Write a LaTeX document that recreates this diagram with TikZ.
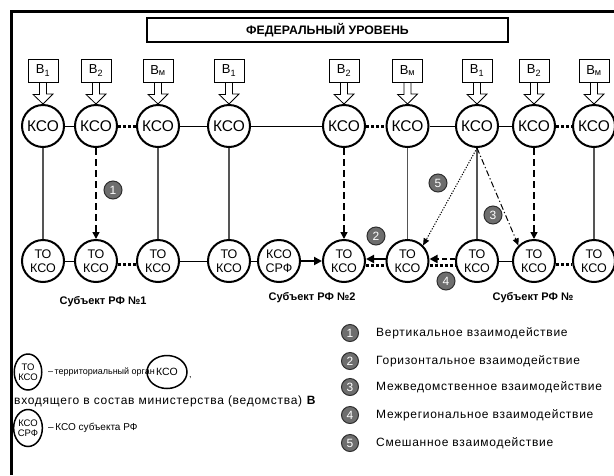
\documentclass[tikz,border=0pt]{standalone}
\usepackage{fontspec}
\setmainfont{Liberation Sans}
\usetikzlibrary{arrows.meta,shapes.geometric}
\definecolor{vline}{HTML}{555555}
\definecolor{labfill}{HTML}{6E6E6E}
\definecolor{labdraw}{HTML}{2E2E2E}
\begin{document}
\begin{tikzpicture}[x=1pt,y=-1pt,
  kso/.style={circle,draw,line width=2pt,minimum size=42pt,inner sep=0pt,font=\fontsize{15.5}{15.5}\selectfont},
  tok/.style={circle,draw,line width=2pt,minimum size=42pt,inner sep=0pt,align=center,font=\fontsize{12.5}{14}\selectfont},
  bbox/.style={draw,line width=0.8pt,minimum width=30pt,minimum height=23pt,inner sep=0pt,font=\fontsize{13}{13}\selectfont},
  hollow/.style={draw,line width=0.8pt,fill=white},
  vsolid/.style={draw=vline,line width=1.2pt},
  hsolid/.style={line width=1pt},
  hdot/.style={line width=3pt,dash pattern=on 3pt off 2pt},
  vdash/.style={line width=1.5pt,dash pattern=on 7pt off 4pt,-{Triangle[length=7pt,width=7pt]}},
  thickarr/.style={line width=2.5pt,-{Triangle[length=8pt,width=8pt]}},
  thickdash/.style={line width=2.5pt,dash pattern=on 5pt off 3pt,-{Triangle[length=8pt,width=8pt]}},
  dotarr/.style={line width=1pt,dash pattern=on 1.2pt off 1.5pt,-{Triangle[length=7pt,width=6pt]}},
  dasharr/.style={line width=1pt,dash pattern=on 6pt off 2.5pt on 1.2pt off 2.5pt,-{Triangle[length=7pt,width=6pt]}},
  lab/.style={circle,fill=labfill,draw=labdraw,line width=1pt,minimum size=18pt,inner sep=0pt,text=white,font=\fontsize{12}{12}\selectfont},
  subj/.style={font=\bfseries\fontsize{11}{11}\selectfont},
  legtxt/.style={anchor=west,inner sep=0pt,font=\fontsize{12}{12}\selectfont\addfontfeatures{LetterSpace=6}},
  legsmall/.style={anchor=west,inner sep=0pt,font=\fontsize{9}{9}\selectfont},
  legell/.style={ellipse,draw,line width=1.5pt,inner sep=0pt,align=center,font=\fontsize{9.5}{10.5}\selectfont}
]
\useasboundingbox (0,0) rectangle (614,475);
% frame
\draw[line width=3.3pt,miter limit=10] (11.6,475) -- (11.6,11.6) -- (614,11.6);
% title
\node[draw,line width=1.8pt,minimum width=361pt,minimum height=24pt,inner sep=0pt,font=\bfseries\fontsize{12.3}{12.3}\selectfont] (title) at (327.5,30) {ФЕДЕРАЛЬНЫЙ УРОВЕНЬ};
% ministries boxes
\node[bbox] (b1) at (43,70.5) {В\textsubscript{1}};
\node[bbox] (b2) at (96,70.5) {В\textsubscript{2}};
\node[bbox] (b3) at (158,70.5) {В\textsubscript{м}};
\node[bbox] (b4) at (229,70.5) {В\textsubscript{1}};
\node[bbox] (b5) at (344,70.5) {В\textsubscript{2}};
\node[bbox] (b6) at (407.5,70.5) {В\textsubscript{м}};
\node[bbox] (b7) at (477,70.5) {В\textsubscript{1}};
\node[bbox] (b8) at (534,70.5) {В\textsubscript{2}};
\node[bbox] (b9) at (594,70.5) {В\textsubscript{м}};
% top KSO
\node[kso] (t1) at (43,126) {КСО};
\node[kso] (t2) at (96,126) {КСО};
\node[kso] (t3) at (158,126) {КСО};
\node[kso] (t4) at (229,126) {КСО};
\node[kso] (t5) at (344,126) {КСО};
\node[kso] (t6) at (407.5,126) {КСО};
\node[kso] (t7) at (477,126) {КСО};
\node[kso] (t8) at (534,126) {КСО};
\node[kso] (t9) at (594,126) {КСО};
% hollow arrows
\foreach \i in {1,...,9}{
  \draw[hollow] ([xshift=-3.5pt]b\i.south) -- ++(0,12) -- ++(-6.5,0) -- (t\i.north) -- ++(10,-10) -- ++(-6.5,0) -- ([xshift=3.5pt]b\i.south) -- cycle;
}
% bottom row
\node[tok] (u1) at (43,261) {ТО\\КСО};
\node[tok] (u2) at (96,261) {ТО\\КСО};
\node[tok] (u3) at (158,261) {ТО\\КСО};
\node[tok] (u4) at (229,261) {ТО\\КСО};
\node[tok] (srf) at (279,261) {КСО\\СРФ};
\node[tok] (u5) at (344,261) {ТО\\КСО};
\node[tok] (u6) at (407.5,261) {ТО\\КСО};
\node[tok] (u7) at (477,261) {ТО\\КСО};
\node[tok] (u8) at (534,261) {ТО\\КСО};
\node[tok] (u9) at (594,261) {ТО\\КСО};
% top horizontal connections
\draw[hsolid] (t1) -- (t2);
\draw[hdot] (t2) -- (t3);
\draw[hsolid] (t3) -- (t4);
\draw[hsolid] (t4) -- (t5);
\draw[hdot] (t5) -- (t6);
\draw[hsolid] (t6) -- (t7);
\draw[hsolid] (t7) -- (t8);
\draw[hdot] (t8) -- (t9);
% bottom horizontal connections
\draw[hsolid] (u1) -- (u2);
\draw[hdot] ([yshift=-3pt]u2.east) -- ([yshift=-3pt]u3.west);
\draw[hsolid] (u3) -- (u4);
\draw[hsolid] (u4) -- (srf);
\draw[thickarr] (srf) -- (u5);
\draw[hdot] ([yshift=-4pt]u5.east) -- ([yshift=-4pt]u6.west);
\draw[thickarr] ([yshift=2pt]u6.west) -- ([yshift=2pt]u5.east);
\draw[hdot] ([yshift=-4pt]u6.east) -- ([yshift=-4pt]u7.west);
\draw[thickdash] ([yshift=2pt]u7.west) -- ([yshift=2pt]u6.east);
\draw[hsolid] (u7) -- (u8);
\draw[hdot] ([yshift=-3pt]u8.east) -- ([yshift=-3pt]u9.west);
% verticals
\draw[vsolid] (t1) -- (u1);
\draw[vdash] (t2) -- (u2);
\draw[vsolid] (t3) -- (u3);
\draw[vsolid] (t4) -- (u4);
\draw[vdash] (t5) -- (u5);
\draw[vsolid] (t6) -- (u6);
\draw[vsolid] (t7) -- (u7);
\draw[vdash] (t8) -- (u8);
\draw[vsolid] (t9) -- (u9);
\draw[dotarr] (t7.south) -- (u6.45);
\draw[dasharr] (t7.south) -- (u8.135);
% labels
\node[lab] (l1) at (113,190) {1};
\node[lab] (l2) at (376,236) {2};
\node[lab] (l5) at (438,183) {5};
\node[lab] (l3) at (493,215) {3};
\node[lab] (l4) at (446,281) {4};
% subjects
\node[subj] (s1) at (103,302) {Субъект РФ №1};
\node[subj] (s2) at (312,298) {Субъект РФ №2};
\node[subj] (s3) at (533,298) {Субъект РФ №};
% left legend
\node[legell,minimum width=27pt,minimum height=36pt] (e1) at (28,372) {ТО\\КСО};
\node[legsmall] (e1t) at (48,372) {–\,территориальный орган};
\node[legell,minimum width=40pt,minimum height=33pt,font=\fontsize{10.5}{10.5}\selectfont] (e2) at (167,372) {КСО};
\node[legsmall] (e2t) at (189,378) {,};
\node[legtxt] (e3t) at (14,401) {входящего в состав министерства (ведомства) \textbf{В}};
\node[legell,minimum width=27pt,minimum height=37pt] (e4) at (28,428) {КСО\\СРФ};
\node[legsmall,font=\fontsize{10}{10}\selectfont] (e4t) at (48,428) {–\,КСО субъекта РФ};
% right legend
\node[lab,minimum size=17pt] (r1) at (350,333) {1};
\node[lab,minimum size=17pt] (r2) at (350,361) {2};
\node[lab,minimum size=17pt] (r3) at (350,387) {3};
\node[lab,minimum size=17pt] (r4) at (350,415) {4};
\node[lab,minimum size=17pt] (r5) at (350,443) {5};
\node[legtxt] (r1t) at (376,333) {Вертикальное взаимодействие};
\node[legtxt] (r2t) at (376,361) {Горизонтальное взаимодействие};
\node[legtxt] (r3t) at (376,387) {Межведомственное взаимодействие};
\node[legtxt] (r4t) at (376,415) {Межрегиональное взаимодействие};
\node[legtxt] (r5t) at (376,443) {Смешанное взаимодействие};
\end{tikzpicture}
\end{document}
